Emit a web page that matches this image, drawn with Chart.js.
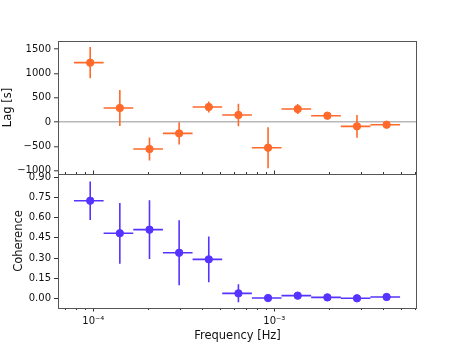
<!DOCTYPE html>
<html>
<head>
<meta charset="utf-8">
<script src="https://cdn.jsdelivr.net/npm/chart.js@4.4.1/dist/chart.umd.min.js"></script>
<style>
    html, body { margin: 0; padding: 0; background: #fff; }
    #wrap { position: relative; width: 463px; height: 347px; }
    #lagChart { position: absolute; left: 0; top: 0; }
    #cohChart { position: absolute; left: 0; top: 168px; }
</style>
</head>
<body>
<div id="wrap">
    <canvas id="lagChart" width="463" height="181"></canvas>
    <canvas id="cohChart" width="463" height="179"></canvas>
</div>
<script>
// --- data ---
const freq = [9.61e-5, 1.401e-4, 2.043e-4, 2.979e-4, 4.343e-4, 6.332e-4, 9.233e-4, 1.346e-3, 1.963e-3, 2.862e-3, 4.172e-3];
const freqErr = [1.79e-5, 2.61e-5, 3.81e-5, 5.55e-5, 8.09e-5, 1.18e-4, 1.72e-4, 2.51e-4, 3.66e-4, 5.33e-4, 7.78e-4];
const lag = [1219, 288, -555, -233, 308, 144, -528, 267, 130, -89, -55];
const lagErr = [320, 370, 237, 230, 115, 230, 420, 103, 35, 233, 25];
const coh = [0.726, 0.484, 0.511, 0.339, 0.290, 0.037, 0.002, 0.020, 0.007, 0.000, 0.010];
const cohErr = [0.143, 0.226, 0.218, 0.242, 0.170, 0.067, 0.005, 0.020, 0.008, 0.005, 0.008];

const lagTicks = [-1000, -500, 0, 500, 1000, 1500];
const cohTicks = [0.00, 0.15, 0.30, 0.45, 0.60, 0.75, 0.90];
const xMajorTicks = [1e-4, 1e-3];
const xMajorLabels = ['10\u207B\u2074', '10\u207B\u00B3'];
const xMinorTicks = [7e-5, 8e-5, 9e-5, 2e-4, 3e-4, 4e-4, 5e-4, 6e-4, 7e-4, 8e-4, 9e-4, 2e-3, 3e-3, 4e-3, 5e-3, 6e-3];

const ORANGE = '#ff6a2b';
const PURPLE = '#5733ff';
const FONT = 'DejaVu Sans';

// error bars as broken line segments (null y = gap)
function hBars(ys) {
    const pts = [];
    freq.forEach((f, i) => {
        pts.push({ x: f - freqErr[i], y: ys[i] }, { x: f + freqErr[i], y: ys[i] }, { x: f, y: null });
    });
    return pts;
}
function vBars(ys, errs) {
    const pts = [];
    freq.forEach((f, i) => {
        pts.push({ x: f, y: ys[i] - errs[i] }, { x: f, y: ys[i] + errs[i] }, { x: f, y: null });
    });
    return pts;
}

function datasets(ys, errs, color) {
    return [
        { data: freq.map((f, i) => ({ x: f, y: ys[i] })), backgroundColor: color, borderColor: color,
          pointRadius: 3.7, pointHoverRadius: 3.7, order: 0 },
        { data: hBars(ys), showLine: true, spanGaps: false, borderColor: color, borderWidth: 1.6,
          pointRadius: 0, order: 1 },
        { data: vBars(ys, errs), showLine: true, spanGaps: false, borderColor: color, borderWidth: 1.6,
          pointRadius: 0, order: 1 }
    ];
}

// frame + log x tick marks
const frameTicks = {
    id: 'frameTicks',
    afterDraw(chart, args, opts) {
        const { ctx, chartArea: a } = chart;
        const x = chart.scales.x;
        const dir = opts.inward ? -1 : 1;
        ctx.save();
        ctx.strokeStyle = '#333';
        ctx.lineWidth = 1;
        const put = (v, len) => {
            const px = Math.round(x.getPixelForValue(v)) + 0.5;
            ctx.beginPath();
            ctx.moveTo(px, a.bottom);
            ctx.lineTo(px, a.bottom + dir * len);
            ctx.stroke();
        };
        xMajorTicks.forEach(v => put(v, 3.5));
        xMinorTicks.forEach(v => put(v, 2));
        ctx.strokeStyle = '#555';
        ctx.strokeRect(a.left + 0.5, a.top + 0.5, a.right - a.left - 1, a.bottom - a.top);
        ctx.restore();
    }
};

const xMin = 6.38e-5, xMax = 6.14e-3;

// fixed y-axis width, no extra label padding so the panels butt together
const fitY = s => { s.width = 58; s.paddingTop = 0; s.paddingBottom = 0; };

// --- Lag panel ---
new Chart(document.getElementById('lagChart'), {
    type: 'scatter',
    data: { datasets: datasets(lag, lagErr, ORANGE) },
    plugins: [frameTicks],
    options: {
        responsive: false,
        animation: false,
        events: [],
        layout: { autoPadding: false, padding: { top: 41, right: 46, bottom: 7, left: 0 } },
        plugins: { legend: { display: false }, tooltip: { enabled: false }, frameTicks: { inward: true } },
        scales: {
            x: { type: 'logarithmic', min: xMin, max: xMax, display: false },
            y: {
                min: -1068, max: 1664,
                afterBuildTicks: s => { s.ticks = lagTicks.map(v => ({ value: v })); },
                afterFit: fitY,
                border: { display: false },
                grid: {
                    color: c => c.tick && c.tick.value === 0 ? '#b8b8b8' : 'rgba(0,0,0,0)',
                    lineWidth: 1.6,
                    tickColor: '#333', tickWidth: 1, tickLength: 4
                },
                ticks: {
                    color: '#111', padding: 3, font: { family: FONT, size: 10 },
                    callback: v => v < 0 ? '\u2212' + Math.abs(v) : String(v)
                },
                title: { display: true, text: 'Lag [s]', color: '#111', padding: { top: 1, bottom: 0 },
                         font: { family: FONT, size: 11.5 } }
            }
        }
    }
});

// --- Coherence panel ---
new Chart(document.getElementById('cohChart'), {
    type: 'scatter',
    data: { datasets: datasets(coh, cohErr, PURPLE) },
    plugins: [frameTicks],
    options: {
        responsive: false,
        animation: false,
        events: [],
        layout: { autoPadding: false, padding: { top: 6, right: 46, bottom: 0, left: 0 } },
        plugins: { legend: { display: false }, tooltip: { enabled: false }, frameTicks: { inward: false } },
        scales: {
            x: {
                type: 'logarithmic', min: xMin, max: xMax,
                afterBuildTicks: s => { s.ticks = xMajorTicks.map(v => ({ value: v })); },
                afterFit: s => { s.height = 39; s.paddingLeft = 0; s.paddingRight = 0; },
                border: { display: false },
                grid: { display: false, drawTicks: false },
                ticks: {
                    color: '#111', padding: 7, maxRotation: 0, autoSkip: false,
                    font: { family: FONT, size: 10 },
                    callback: v => xMajorLabels[xMajorTicks.indexOf(v)] || ''
                },
                title: { display: true, text: 'Frequency [Hz]', color: '#111', padding: { top: 0, bottom: 4 },
                         font: { family: FONT, size: 11.5 } }
            },
            y: {
                min: -0.072, max: 0.925,
                afterBuildTicks: s => { s.ticks = cohTicks.map(v => ({ value: v })); },
                afterFit: fitY,
                border: { display: false },
                grid: { drawOnChartArea: false, tickColor: '#333', tickWidth: 1, tickLength: 4 },
                ticks: {
                    color: '#111', padding: 3, font: { family: FONT, size: 10 },
                    callback: v => v.toFixed(2)
                },
                title: { display: true, text: 'Coherence', color: '#111', padding: { top: 12, bottom: 0 },
                         font: { family: FONT, size: 11.5 } }
            }
        }
    }
});
</script>
</body>
</html>
